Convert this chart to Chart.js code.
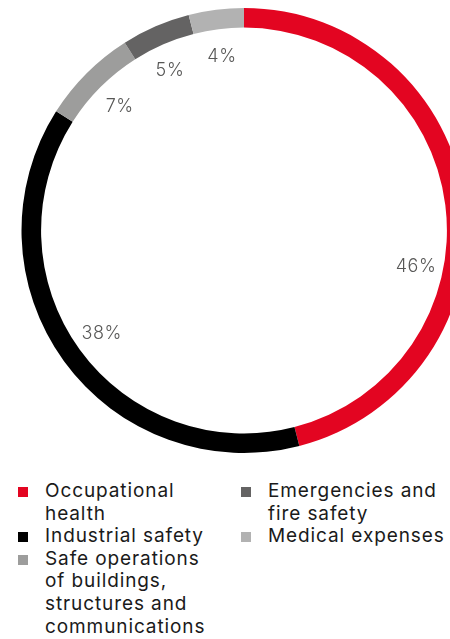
<!DOCTYPE html>
<html>
<head>
<meta charset="utf-8">
<script src="https://cdn.jsdelivr.net/npm/chart.js@4"></script>
<style>
  html, body { margin: 0; padding: 0; background: #fff; overflow: hidden; }
  body { width: 450px; height: 639px; position: relative; font-family: Inter, "Open Sans", sans-serif; }
  #wrap { position: absolute; left: 0; top: 0; width: 488px; height: 461px; }
  #legend {
    position: absolute; left: 18px; top: 480px;
    display: grid; grid-auto-flow: column;
    grid-template-rows: repeat(3, auto);
    grid-template-columns: 223px 220px;
    font-size: 19px; line-height: 22.6px; color: #1a1a1a;
    letter-spacing: 0.9px;
  }
  .item { display: flex; align-items: flex-start; }
  .box { width: 10px; height: 10px; margin-top: 7px; margin-right: 17px; flex: none; }
  .txt { max-width: 168px; }
  .col2 .txt { max-width: 190px; }
</style>
</head>
<body>
<div id="wrap"><canvas id="myChart"></canvas></div>
<div id="legend"></div>
<script>
const categories = ['Occupational health', 'Industrial safety', 'Safe operations of buildings, structures and communications', 'Emergencies and fire safety', 'Medical expenses'];
const shares = [46, 38, 7, 5, 4];
const colours = ['#e30521', '#000000', '#9d9d9c', '#646363', '#b2b2b2'];

// writes the percentage inside the ring, near each slice
const ringLabels = {
  id: 'ringLabels',
  afterDatasetsDraw(chart, args, opts) {
    const ctx = chart.ctx;
    const meta = chart.getDatasetMeta(0);
    ctx.save();
    ctx.font = opts.font;
    ctx.fillStyle = opts.color;
    ctx.textAlign = 'center';
    ctx.textBaseline = 'middle';
    if ('letterSpacing' in ctx) ctx.letterSpacing = '0.6px';
    meta.data.forEach((arc, i) => {
      const p = arc.getProps(['x', 'y', 'startAngle', 'endAngle', 'outerRadius'], true);
      const mid = (p.startAngle + p.endAngle) / 2 + (opts.shift[i] || 0) * Math.PI / 180;
      const r = p.outerRadius * opts.radius;
      ctx.fillText(chart.data.datasets[0].data[i] + '%', p.x + r * Math.cos(mid), p.y + r * Math.sin(mid));
    });
    ctx.restore();
  }
};

var ctx = document.getElementById('myChart');
const config = {
  type: 'doughnut',
  data: {
    labels: categories,
    datasets: [{
      data: shares,
      backgroundColor: colours,
      borderWidth: 0
    }]
  },
  options: {
    responsive: true,
    maintainAspectRatio: false,
    animation: false,
    cutout: '91.2%',
    layout: { padding: 8 },
    plugins: {
      legend: { display: false },
      tooltip: { enabled: false },
      ringLabels: {
        font: '300 18px Inter, "Open Sans", sans-serif',
        color: '#575756',
        radius: 0.79,
        shift: [19, 0, 0, -1.5, 0]
      }
    }
  },
  plugins: [ringLabels]
};
var myChart = new Chart(ctx, config);

// html legend, two columns (first three left, rest right)
let legend = document.getElementById('legend');
myChart.data.labels.forEach((name, i) => {
  let item = document.createElement('div');
  item.className = i > 2 ? 'item col2' : 'item';
  item.innerHTML = '<span class="box" style="background:' + colours[i] + '"></span><span class="txt">' + name + '</span>';
  legend.appendChild(item);
});
</script>
</body>
</html>
